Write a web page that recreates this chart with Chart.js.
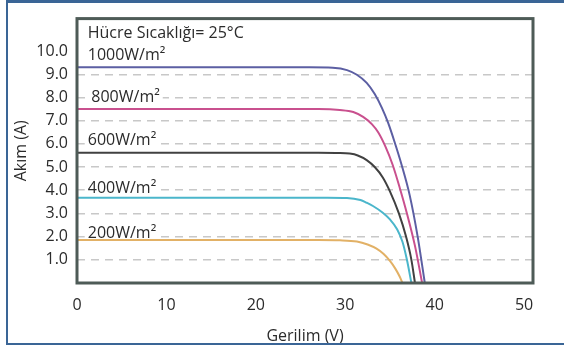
<!DOCTYPE html>
<html>
<head>
<meta charset="utf-8">
<script src="https://cdn.jsdelivr.net/npm/chart.js@4"></script>
<style>
    body { margin: 0; background: #fff; }
    #wrap { position: relative; width: 564px; height: 346px; overflow: hidden; }
    #frame {
        position: absolute; left: 6px; top: 0; width: 600px; height: 340px;
        border-top: 3px solid #3a6596; border-left: 2px solid #3a6596; border-bottom: 2px solid #3a6596;
        pointer-events: none;
    }
</style>
</head>
<body>
<div id="wrap">
    <canvas id="chart" width="564" height="346"></canvas>
    <div id="frame"></div>
</div>
<script>
// I-V curves, one pair of arrays per irradiance level
const v1000 = [0, 10, 20, 26, 28.6, 30.2, 31.3, 32.4, 33.3, 34.1, 34.8, 35.5, 36.3, 37.2, 38.1, 38.9];
const i1000 = [9.3, 9.3, 9.3, 9.3, 9.28, 9.18, 8.98, 8.63, 8.15, 7.55, 6.9, 6.1, 5.1, 3.8, 2.0, 0];

const v800 = [0, 10, 20, 27, 29.4, 30.9, 32.0, 33.0, 33.7, 34.5, 35.3, 36.1, 36.9, 37.8, 38.6];
const i800 = [7.5, 7.5, 7.5, 7.5, 7.46, 7.37, 7.16, 6.84, 6.49, 5.88, 5.10, 4.1, 3.0, 1.6, 0];

const v600 = [0, 10, 20, 27, 29.4, 30.5, 31.4, 32.4, 33.3, 34.2, 35.0, 36.0, 36.8, 37.4, 37.8];
const i600 = [5.62, 5.62, 5.62, 5.62, 5.61, 5.58, 5.5, 5.3, 5.0, 4.55, 3.95, 3.0, 2.0, 1.0, 0];

const v400 = [0, 10, 20, 28, 30.2, 31.7, 32.4, 33.1, 34.2, 35.0, 35.8, 36.4, 36.9, 37.4];
const i400 = [3.68, 3.68, 3.68, 3.68, 3.67, 3.58, 3.46, 3.32, 3.03, 2.74, 2.32, 1.78, 1.0, 0];

const v200 = [0, 10, 20, 27, 29.4, 31.3, 32.5, 33.5, 34.3, 35.0, 35.6, 36.1, 36.4];
const i200 = [1.85, 1.85, 1.85, 1.85, 1.84, 1.79, 1.66, 1.48, 1.25, 0.95, 0.62, 0.27, 0];

const seriesNames = ["1000W/m²", "800W/m²", "600W/m²", "400W/m²", "200W/m²"];
const seriesColors = ["#5c5fa3", "#c9508e", "#414141", "#4bb6cb", "#e2b166"];

// text labels inside the plot (data coordinates)
const noteTexts = ["Hücre Sıcaklığı= 25°C", "1000W/m²", "800W/m²", "600W/m²", "400W/m²", "200W/m²"];
const noteX = [1.2, 1.2, 1.6, 1.2, 1.2, 1.2];
const noteY = [10.75, 9.8, 8.0, 6.14, 4.07, 2.12];

const xTicks = [0, 10, 20, 30, 40, 50];
const FONT = "'Open Sans', sans-serif";

function pts(xs, ys) {
    return xs.map((x, k) => ({ x: x, y: ys[k] }));
}

const curves = [pts(v1000, i1000), pts(v800, i800), pts(v600, i600), pts(v400, i400), pts(v200, i200)];

const plotFrame = {
    id: "plotFrame",
    afterDatasetsDraw(chart) {
        const a = chart.chartArea;
        const ctx = chart.ctx;
        ctx.save();
        ctx.strokeStyle = "#4e5b57";
        ctx.lineWidth = 3;
        ctx.strokeRect(a.left, a.top, a.right - a.left, a.bottom - a.top);
        ctx.restore();
    }
};

const notes = {
    id: "notes",
    beforeDatasetsDraw(chart) {
        const ctx = chart.ctx;
        const xs = chart.scales.x, ys = chart.scales.y;
        ctx.save();
        ctx.font = "16px " + FONT;
        ctx.textBaseline = "middle";
        noteTexts.forEach((t, k) => {
            const px = xs.getPixelForValue(noteX[k]);
            const py = ys.getPixelForValue(noteY[k]);
            const w = ctx.measureText(t).width;
            ctx.fillStyle = "#fff";
            ctx.fillRect(px - 3, py - 9, w + 6, 18);
            ctx.fillStyle = "#2b2b2b";
            ctx.fillText(t, px, py);
        });
        ctx.restore();
    }
};

new Chart(document.getElementById("chart"), {
    type: "line",
    data: {
        datasets: curves.map((d, k) => ({
            label: seriesNames[k],
            data: d,
            borderColor: seriesColors[k],
            borderWidth: 2,
            pointRadius: 0,
            cubicInterpolationMode: "monotone",
            fill: false
        }))
    },
    options: {
        responsive: false,
        animation: false,
        devicePixelRatio: 1,
        layout: { padding: { top: 9, right: 31, left: 0, bottom: 0 } },
        plugins: { legend: { display: false }, tooltip: { enabled: false } },
        scales: {
            x: {
                type: "linear",
                min: 0,
                max: 51,
                afterFit: s => { s.height = 63; },
                afterBuildTicks: s => { s.ticks = xTicks.map(v => ({ value: v })); },
                grid: { display: false, drawTicks: false },
                border: { display: false },
                ticks: { padding: 13, color: "#2b2b2b", font: { family: FONT, size: 16 } },
                title: {
                    display: true, text: "Gerilim (V)", color: "#2b2b2b",
                    font: { family: FONT, size: 16 }, padding: { top: 3, bottom: 0 }
                }
            },
            y: {
                min: 0,
                max: 11.4,
                afterFit: s => { s.width = 77; },
                ticks: {
                    stepSize: 1,
                    padding: 9,
                    color: "#2b2b2b",
                    font: { family: FONT, size: 16 },
                    callback: v => (v >= 1 && v <= 10 && Number.isInteger(v)) ? v.toFixed(1) : ""
                },
                grid: {
                    drawTicks: false,
                    lineWidth: 1.5,
                    color: c => (c.tick && c.tick.value >= 1 && c.tick.value <= 9) ? "#c8c8c8" : "transparent"
                },
                border: { display: false, dash: [8, 6] },
                title: {
                    display: true, text: "Akım (A)", color: "#2b2b2b",
                    font: { family: FONT, size: 16 }, padding: { top: 12, bottom: 0 }
                }
            }
        }
    },
    plugins: [notes, plotFrame]
});
</script>
</body>
</html>
